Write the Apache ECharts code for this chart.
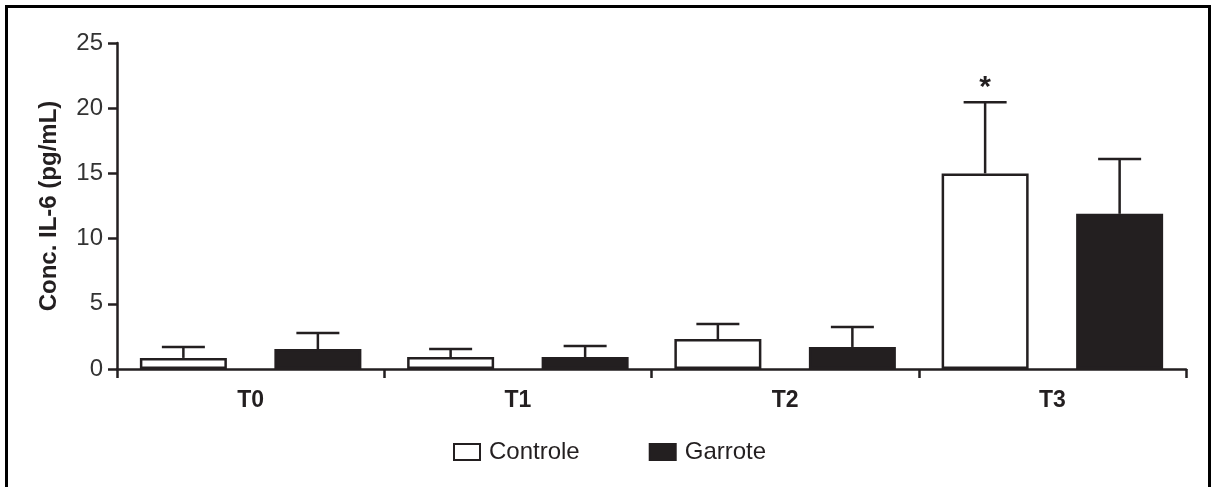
<!DOCTYPE html>
<html>
<head>
<meta charset="utf-8">
<script src="https://cdn.jsdelivr.net/npm/echarts@6/dist/echarts.min.js"></script>
<style>
  html, body { margin: 0; padding: 0; background: #fff; }
  #chart { width: 1212px; height: 487px; position: absolute; left: 0; top: 0; }
  #frame { position: absolute; left: 5px; top: 5px; width: 1200px; height: 500px;
           border-top: 3px solid #000; border-left: 3px solid #000; border-right: 3px solid #000;
           pointer-events: none; }
</style>
</head>
<body>
<div id="chart"></div>
<div id="frame"></div>
<script>
const categories = ['T0', 'T1', 'T2', 'T3'];
const controle = [0.85, 0.92, 2.3, 15.0];
const controleSD = [0.84, 0.61, 1.15, 5.45];
const garrote = [1.53, 0.92, 1.69, 11.9];
const garroteSD = [1.23, 0.84, 1.53, 4.2];
const controleMarks = ['', '', '', '*'];
const garroteMarks = ['', '', '', ''];
const yTicks = [0, 5, 10, 15, 20, 25];

const INK = '#231f20';
const FONT = '"Liberation Sans", Arial, Helvetica, sans-serif';
const BAR_W = 87;
const BAR_GAP = 47.5;
const HALF = (BAR_W + BAR_GAP) / 2;

function errSeries(values, sds, marks, side) {
  return {
    type: 'custom',
    z: 5,
    silent: true,
    renderItem: function (params, api) {
      const i = api.value(0);
      const v = api.value(1);
      const sd = api.value(2);
      const cx = api.coord([i, 0])[0] + side * HALF;
      const yTop = api.coord([i, v])[1];
      const yCap = api.coord([i, v + sd])[1];
      const children = [
        { type: 'line', shape: { x1: cx, y1: yTop, x2: cx, y2: yCap },
          style: { stroke: INK, lineWidth: 2.5 } },
        { type: 'line', shape: { x1: cx - 21.5, y1: yCap, x2: cx + 21.5, y2: yCap },
          style: { stroke: INK, lineWidth: 2.5 } }
      ];
      const m = marks[params.dataIndex];
      if (m) {
        children.push({ type: 'text', x: cx, y: yCap,
          style: { text: m, fill: INK, font: 'bold 30px ' + FONT, align: 'center', verticalAlign: 'bottom' } });
      }
      return { type: 'group', children: children };
    },
    data: categories.map((c, i) => [i, values[i], sds[i]])
  };
}

const chart = echarts.init(document.getElementById('chart'), null, { renderer: 'canvas' });
chart.setOption({
  animation: false,
  backgroundColor: '#fff',
  grid: { left: 117, right: 26, top: 43, bottom: 118, containLabel: false },
  legend: {
    left: 453, top: 440, padding: 0, icon: 'rect',
    itemWidth: 26, itemHeight: 16, itemGap: 69,
    textStyle: { fontFamily: FONT, fontSize: 24, color: INK, padding: [0, 0, 0, 4] },
    data: ['Controle', 'Garrote']
  },
  xAxis: {
    type: 'category',
    data: categories,
    boundaryGap: true,
    axisLine: { lineStyle: { color: INK, width: 2.5 } },
    axisTick: { show: true, alignWithLabel: false, length: 9, lineStyle: { color: INK, width: 2.5 } },
    axisLabel: { fontFamily: FONT, fontSize: 23, fontWeight: 'bold', color: INK, margin: 20 }
  },
  yAxis: {
    type: 'value',
    min: yTicks[0], max: yTicks[yTicks.length - 1], interval: yTicks[1] - yTicks[0],
    name: 'Conc. IL-6 (pg/mL)',
    nameLocation: 'middle', nameGap: 56, nameRotate: 90,
    nameTextStyle: { fontFamily: FONT, fontSize: 24, fontWeight: 'bold', color: INK },
    axisLine: { show: true, lineStyle: { color: INK, width: 2.5 } },
    axisTick: { show: true, length: 9, lineStyle: { color: INK, width: 2.5 } },
    axisLabel: { fontFamily: FONT, fontSize: 24, color: '#333', margin: 14 },
    splitLine: { show: false }
  },
  series: [
    { name: 'Controle', type: 'bar', data: controle, barWidth: BAR_W, barGap: (BAR_GAP / BAR_W * 100) + '%',
      itemStyle: { color: '#fff', borderColor: INK, borderWidth: 2.5 } },
    { name: 'Garrote', type: 'bar', data: garrote, barWidth: BAR_W,
      itemStyle: { color: INK, borderColor: INK, borderWidth: 2.5 } },
    errSeries(controle, controleSD, controleMarks, -1),
    errSeries(garrote, garroteSD, garroteMarks, 1)
  ]
});
</script>
</body>
</html>
